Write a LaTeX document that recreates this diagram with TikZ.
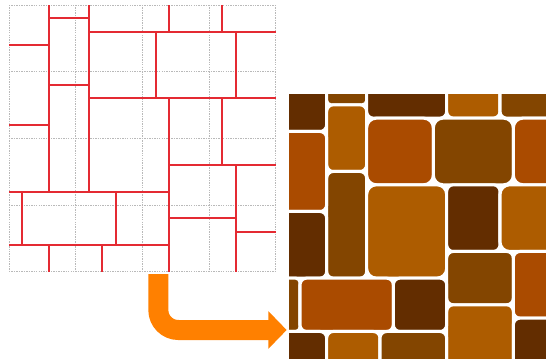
\documentclass[tikz,border=0pt]{standalone}
\usepackage{tikz}
\usetikzlibrary{arrows.meta}

\definecolor{linered}{RGB}{228,42,50}
\definecolor{tiledark}{RGB}{99,45,0}
\definecolor{tilemid}{RGB}{131,69,0}
\definecolor{tilered}{RGB}{170,75,0}
\definecolor{tilelight}{RGB}{173,92,0}

\begin{document}
\begin{tikzpicture}[x=0.4cm,y=-0.4cm,
    gridline/.style={gray!55,line width=0.6pt,dash pattern=on 1.2pt off 0.9pt},
    redline/.style={linered,line width=1.6pt},
    tile/.style={draw=white,line width=2.6pt,rounded corners=2mm},
    bigtile/.style={tile,rounded corners=2.9mm}]
        \useasboundingbox (0,0) rectangle (40.95,26.85);

        \begin{scope}[shift={(0.675,0.375)}]
            \foreach \k in {0,5,...,20} {
                \draw[gridline] (\k,0)--(\k,20);
                \draw[gridline] (0,\k)--(20,\k);
            }
            \draw[redline] (3,0)--(3,14) (6,0)--(6,14) (12,0)--(12,2) (16,0)--(16,2)
                (11,2)--(11,7) (17,2)--(17,7) (12,7)--(12,20) (16,7)--(16,12)
                (17,12)--(17,20) (1,14)--(1,18) (8,14)--(8,18) (3,18)--(3,20) (7,18)--(7,20);
            \draw[redline] (3,1)--(6,1) (6,2)--(20,2) (0,3)--(3,3) (3,6)--(6,6)
                (6,7)--(20,7) (0,9)--(3,9) (12,12)--(20,12) (0,14)--(12,14)
                (12,16)--(17,16) (17,17)--(20,17) (0,18)--(12,18);
        \end{scope}

        \begin{scope}[shift={(21.5,6.86)}]
            \clip (0.175,0.19) rectangle (19.5,20);
            \filldraw[tile,fill=tiledark] (-1,-1) rectangle (3,3);
            \filldraw[tile,fill=tilemid,rounded corners=1.3mm] (3,-1) rectangle (6,1);
            \filldraw[tile,fill=tilelight] (3,1) rectangle (6,6);
            \filldraw[tile,fill=tilemid] (3,6) rectangle (6,14);
            \filldraw[tile,fill=tilered] (-1,3) rectangle (3,9);
            \filldraw[tile,fill=tiledark] (-1,9) rectangle (3,14);
            \filldraw[tile,fill=tiledark] (6,-1) rectangle (12,2);
            \filldraw[tile,fill=tilelight] (12,-1) rectangle (16,2);
            \filldraw[tile,fill=tilemid] (16,-1) rectangle (21,2);
            \filldraw[bigtile,fill=tilered] (6,2) rectangle (11,7);
            \filldraw[bigtile,fill=tilemid] (11,2) rectangle (17,7);
            \filldraw[bigtile,fill=tilered] (17,2) rectangle (21,7);
            \filldraw[bigtile,fill=tilelight] (6,7) rectangle (12,14);
            \filldraw[tile,fill=tiledark] (12,7) rectangle (16,12);
            \filldraw[bigtile,fill=tilelight] (16,7) rectangle (21,12);
            \filldraw[tile,fill=tilemid] (12,12) rectangle (17,16);
            \filldraw[tile,fill=tilered] (17,12) rectangle (21,17);
            \filldraw[tile,fill=tilelight] (12,16) rectangle (17,21);
            \filldraw[tile,fill=tiledark] (17,17) rectangle (21,21);
            \filldraw[tile,fill=tilemid,rounded corners=1.3mm] (-1,14) rectangle (1,18);
            \filldraw[tile,fill=tilered] (1,14) rectangle (8,18);
            \filldraw[tile,fill=tiledark] (8,14) rectangle (12,18);
            \filldraw[tile,fill=tiledark] (-1,18) rectangle (3,21);
            \filldraw[tile,fill=tilelight] (3,18) rectangle (7,21);
            \filldraw[tile,fill=tilemid] (7,18) rectangle (12,21);
        \end{scope}

        \coordinate (start) at (11.875,20.55);
        \coordinate (bend) at (11.875,24.75);
        \coordinate (tip) at (21.5,24.75);
        \draw[orange,line width=0.6cm,rounded corners=0.6cm,
            -{Triangle[length=0.55cm,width=1.1cm]}] (start)--(bend)--(tip);
    \end{tikzpicture}
\end{document}
